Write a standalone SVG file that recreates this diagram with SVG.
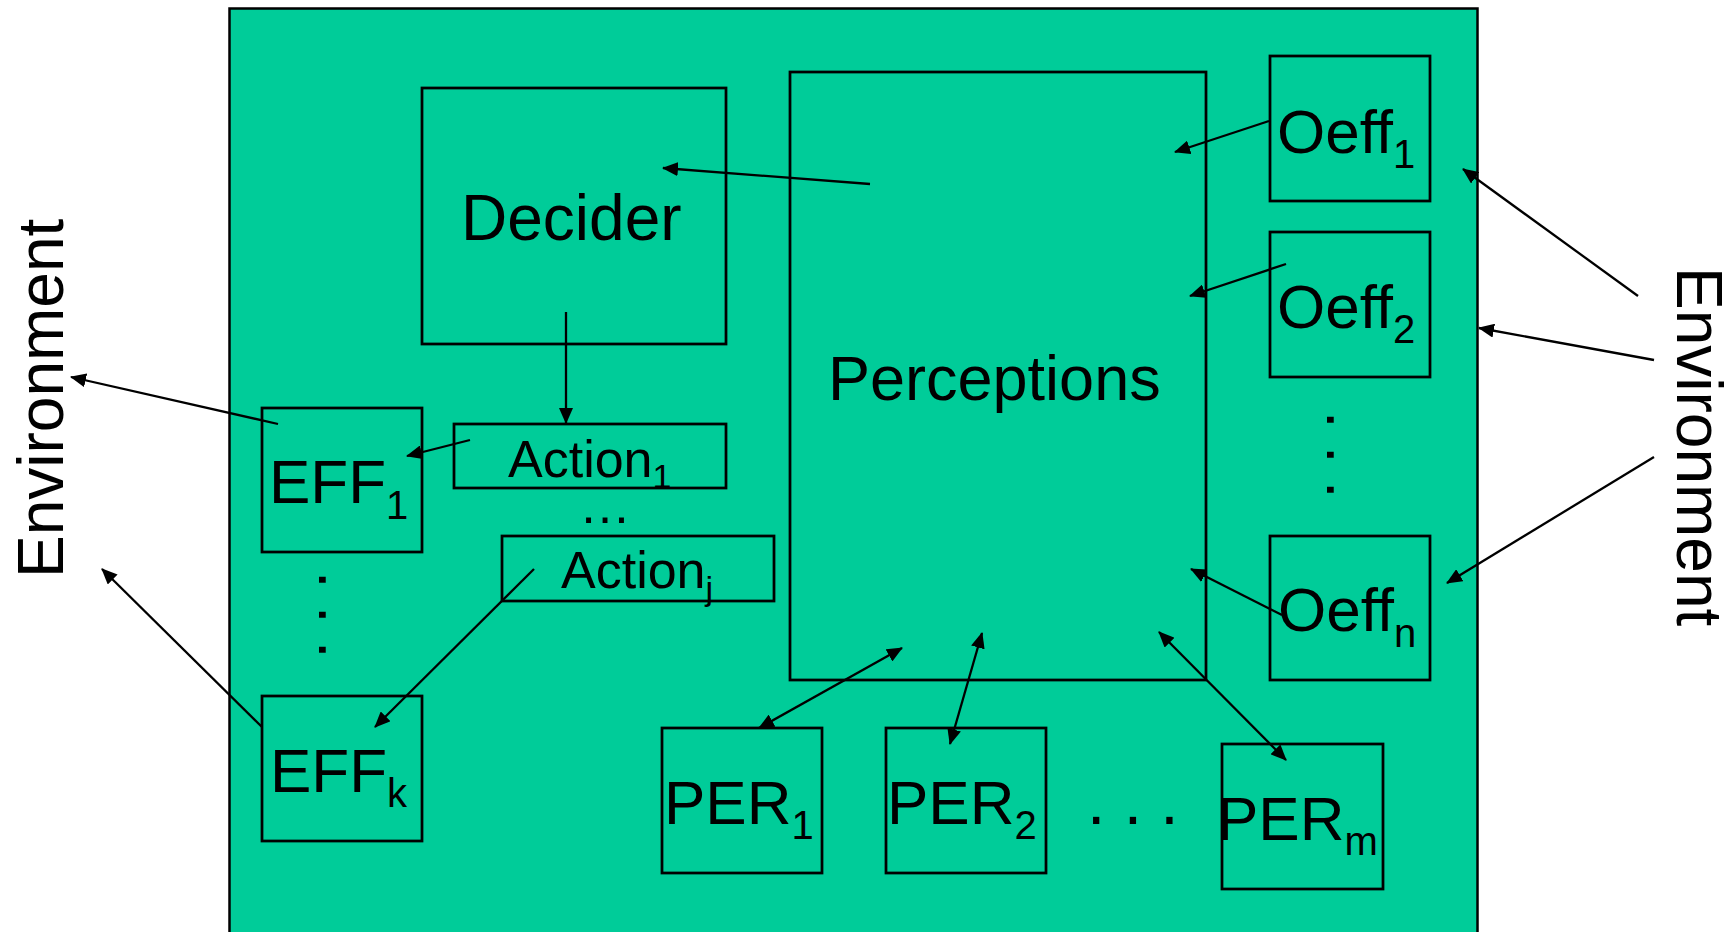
<svg xmlns="http://www.w3.org/2000/svg" width="1733" height="932" viewBox="0 0 1733 932">
  <style>
    .box { fill: none; stroke: #000; stroke-width: 2.75; }
    .lbl { font-family: "Liberation Sans", Arial, sans-serif; fill: #000; }
    .big { font-size: 62px; }
    .sub { font-size: 40px; }
    .act { font-size: 52px; }
    .actsub { font-size: 34px; }
    .vdots { font-family: "Liberation Sans", Arial, sans-serif; font-size: 63px; fill: #000; }
    .conn line { stroke: #000; stroke-width: 2.3; fill: none; }
    .one { marker-end: url(#ah); }
    .two { marker-start: url(#ah); marker-end: url(#ah); }
  </style>
  <defs>
    <marker id="ah" viewBox="0 0 16 14" refX="15" refY="7" markerWidth="16" markerHeight="14" markerUnits="userSpaceOnUse" orient="auto-start-reverse">
      <path d="M0,0 L16,7 L0,14 z" fill="#000"/>
    </marker>
  </defs>

  <rect width="1733" height="932" fill="#fff"/>

  <!-- agent body -->
  <g id="agent">
    <rect x="229.5" y="8.5" width="1248" height="940" fill="#00cc99" stroke="#000" stroke-width="2.5"/>
  </g>

  <!-- outside world labels -->
  <g id="env-left">
    <text class="lbl" font-size="64" transform="translate(63,578) rotate(-90)">Environment</text>
  </g>
  <g id="env-right">
    <text class="lbl" font-size="64" transform="translate(1677,267) rotate(90)">Environment</text>
  </g>

  <g id="decider">
    <rect class="box" x="422" y="88" width="304" height="256"/>
    <text class="lbl" font-size="64" x="461" y="240">Decider</text>
  </g>

  <g id="perceptions">
    <rect class="box" x="790" y="72" width="416" height="608"/>
    <text class="lbl" font-size="63" x="828" y="400">Perceptions</text>
  </g>

  <g id="action1">
    <rect class="box" x="454" y="424" width="272" height="64"/>
    <text class="lbl act" x="508" y="477">Action<tspan class="actsub" dy="11">1</tspan></text>
  </g>
  <g id="action-dots">
    <text class="lbl act" x="579" y="523">…</text>
  </g>
  <g id="actionj">
    <rect class="box" x="502" y="536" width="272" height="65"/>
    <text class="lbl act" x="561" y="588">Action<tspan class="actsub" dy="12">j</tspan></text>
  </g>

  <g id="eff1">
    <rect class="box" x="262" y="408" width="160" height="144"/>
    <text class="lbl big" x="269" y="503">EFF<tspan class="sub" dy="16">1</tspan></text>
  </g>
  <g id="eff-dots">
    <text class="vdots" transform="translate(318.5,571) rotate(90)">. . .</text>
  </g>
  <g id="effk">
    <rect class="box" x="262" y="696" width="160" height="145"/>
    <text class="lbl big" x="270" y="792">EFF<tspan class="sub" dy="15">k</tspan></text>
  </g>

  <g id="oeff1">
    <rect class="box" x="1270" y="56" width="160" height="145"/>
    <text class="lbl big" x="1277" y="153">Oeff<tspan class="sub" dy="15">1</tspan></text>
  </g>
  <g id="oeff2">
    <rect class="box" x="1270" y="232" width="160" height="145"/>
    <text class="lbl big" x="1277" y="328">Oeff<tspan class="sub" dy="15">2</tspan></text>
  </g>
  <g id="oeff-dots">
    <text class="vdots" transform="translate(1326.5,411) rotate(90)">. . .</text>
  </g>
  <g id="oeffn">
    <rect class="box" x="1270" y="536" width="160" height="144"/>
    <text class="lbl big" x="1278" y="631">Oeff<tspan class="sub" dy="16">n</tspan></text>
  </g>

  <g id="per1">
    <rect class="box" x="662" y="728" width="160" height="145"/>
    <text class="lbl big" x="664" y="824">PER<tspan class="sub" dy="15">1</tspan></text>
  </g>
  <g id="per2">
    <rect class="box" x="886" y="728" width="160" height="145"/>
    <text class="lbl big" x="887" y="824">PER<tspan class="sub" dy="15">2</tspan></text>
  </g>
  <g id="per-dots">
    <text class="lbl" font-size="66" x="1087" y="824">. . .</text>
  </g>
  <g id="perm">
    <rect class="box" x="1222" y="744" width="161" height="145"/>
    <text class="lbl big" x="1217" y="840">PER<tspan class="sub" dy="15">m</tspan></text>
  </g>

  <!-- connectors -->
  <g id="connectors" class="conn">
    <line class="one" x1="870" y1="184" x2="663" y2="168"/>
    <line class="one" x1="566" y1="312" x2="566" y2="423"/>
    <line class="one" x1="470" y1="440" x2="407" y2="456"/>
    <line class="one" x1="278" y1="424" x2="71" y2="377"/>
    <line class="one" x1="534" y1="569" x2="375" y2="727"/>
    <line class="one" x1="262" y1="727" x2="102" y2="569"/>
    <line class="one" x1="1269" y1="121" x2="1175" y2="152"/>
    <line class="one" x1="1286" y1="264" x2="1190" y2="296"/>
    <line class="one" x1="1282" y1="615" x2="1191" y2="569"/>
    <line class="one" x1="1638" y1="296" x2="1463" y2="169"/>
    <line class="one" x1="1654" y1="360" x2="1479" y2="328"/>
    <line class="one" x1="1654" y1="457" x2="1447" y2="583"/>
    <line class="two" x1="759" y1="728" x2="902" y2="648"/>
    <line class="two" x1="950" y1="744" x2="982" y2="633"/>
    <line class="two" x1="1286" y1="760" x2="1159" y2="632"/>
  </g>
</svg>
